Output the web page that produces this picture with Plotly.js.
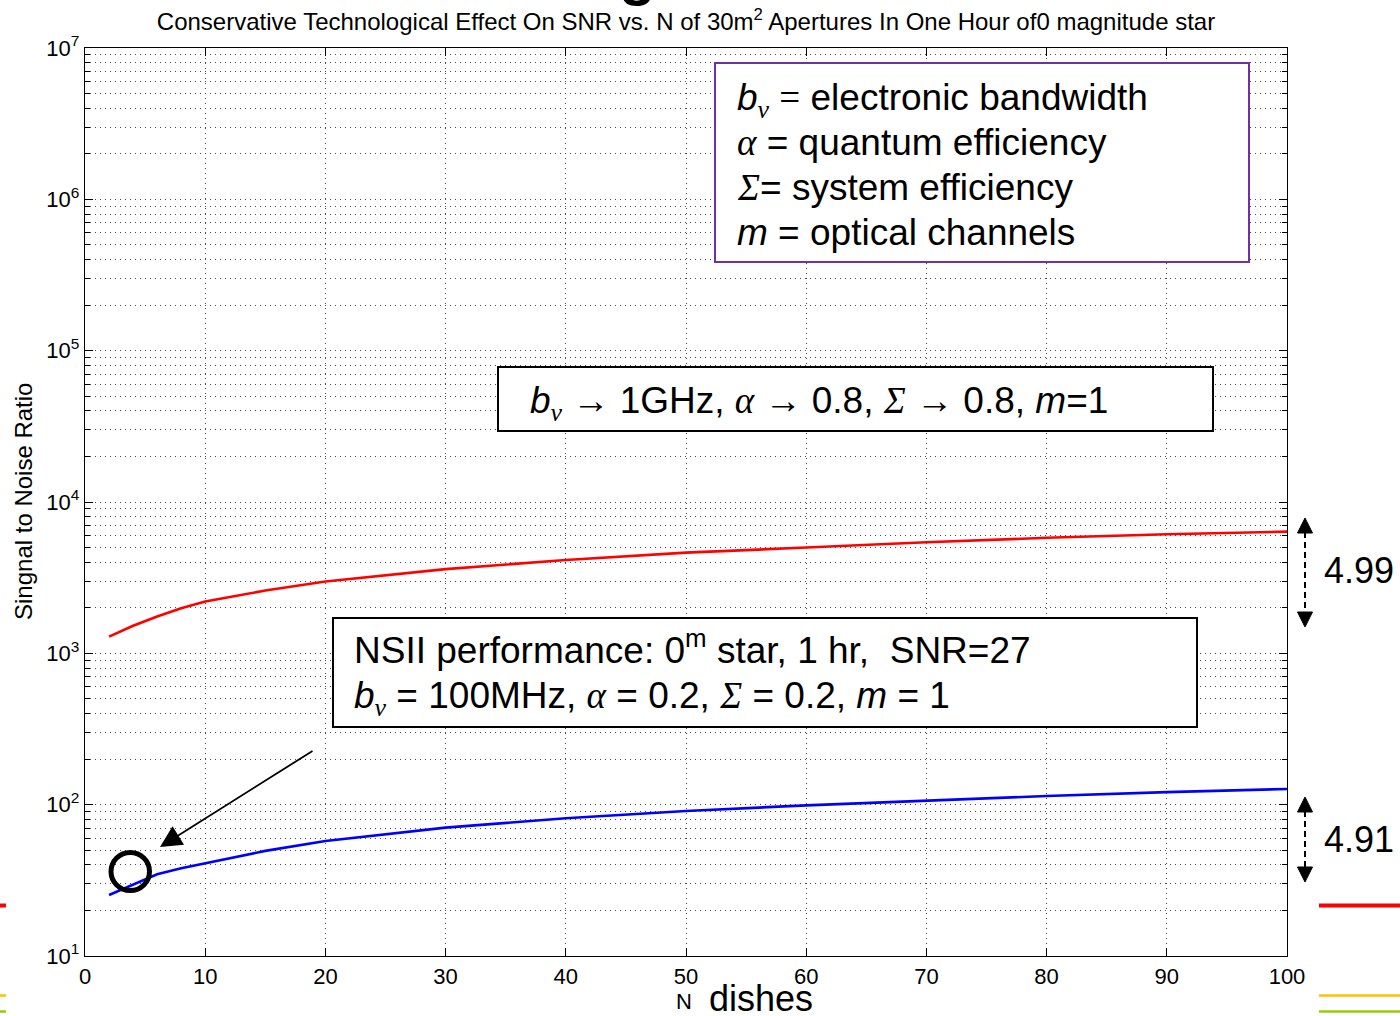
<!DOCTYPE html>
<html>
<head>
<meta charset="utf-8">
<script src="https://cdn.plot.ly/plotly-3.0.1.min.js"></script>
<style>html,body{margin:0;padding:0;background:#fff;}</style>
</head>
<body>
<div id="chart" style="width:1400px;height:1016px;"></div>
<script>
// Number of dishes (30 m^2 apertures)
const dishes = [2, 4, 6, 8, 10, 15, 20, 30, 40, 50, 60, 70, 80, 90, 100];
// SNR with improved technology: b_nu -> 1 GHz, alpha -> 0.8, Sigma -> 0.8, m = 1
const snrImproved = [1290, 1520, 1750, 1985, 2200, 2600, 2980, 3600, 4140, 4630, 5000, 5420, 5800, 6120, 6370];
// SNR with NSII performance: b_nu = 100 MHz, alpha = 0.2, Sigma = 0.2, m = 1
const snrNSII = [25.3, 29.5, 34.7, 38, 41, 49.5, 57.5, 70.5, 81.3, 90.8, 99, 106.5, 114, 121, 127];

const decadeVals = [1e1, 1e2, 1e3, 1e4, 1e5, 1e6, 1e7];
const decadeLabels = ['10<sup>1</sup>', '10<sup>2</sup>', '10<sup>3</sup>', '10<sup>4</sup>',
                      '10<sup>5</sup>', '10<sup>6</sup>', '10<sup>7</sup>'];
const xTickVals = [0, 10, 20, 30, 40, 50, 60, 70, 80, 90, 100];

const ratioImproved = '4.99';
const ratioNSII = '4.91';

// minor log gridlines (2..9 within each decade)
const minorVals = [];
for (let k = 1; k < 7; k++) for (let d = 2; d <= 9; d++) minorVals.push(d * Math.pow(10, k));

// plot frame in page pixels, used to place the overlay drawings
const L = 85, R = 1287, T = 48, B = 956;
const fx = p => (p - L) / (R - L);
const fy = p => (B - p) / (B - T);

const FONT = 'Liberation Sans, Arial, sans-serif';
const serif = s => `<span style="font-family:'Liberation Serif'">${s}</span>`;
const bnu = `<i>b</i><sub>${serif('<i>ν</i>')}</sub>`;
const alpha = serif('<i>α</i>');
const sigma = serif('<i>Σ</i>');
const arrowR = serif('→');

const gridDash = '1px,4px';
const gridColor = '#4a4a4a';

const traces = [
  {x: dishes, y: snrImproved, type: 'scatter', mode: 'lines',
   line: {color: '#ff0000', width: 2.6}, hoverinfo: 'skip'},
  {x: dishes, y: snrNSII, type: 'scatter', mode: 'lines',
   line: {color: '#0000ff', width: 2.6}, hoverinfo: 'skip'}
];

function rect(x0, y0, x1, y1, color, w) {
  return {type: 'rect', xref: 'paper', yref: 'paper', x0: fx(x0), x1: fx(x1), y0: fy(y1), y1: fy(y0),
          line: {color: color, width: w}, fillcolor: '#ffffff', layer: 'above'};
}
function hline(x0, x1, y, color, w) {
  return {type: 'line', xref: 'paper', yref: 'paper', x0: fx(x0), x1: fx(x1), y0: fy(y), y1: fy(y),
          line: {color: color, width: w}, layer: 'above'};
}
function vdash(x, y0, y1) {
  return {type: 'line', xref: 'paper', yref: 'paper', x0: fx(x), x1: fx(x), y0: fy(y0), y1: fy(y1),
          line: {color: '#000', width: 2, dash: '6px,4px'}, layer: 'above'};
}
function tri(xc, tipY, baseY, half) {
  const p = `M${fx(xc)},${fy(tipY)} L${fx(xc - half)},${fy(baseY)} L${fx(xc + half)},${fy(baseY)} Z`;
  return {type: 'path', xref: 'paper', yref: 'paper', path: p,
          line: {color: '#000', width: 1}, fillcolor: '#000', layer: 'above'};
}

const shapes = [
  rect(715, 63, 1249, 262, '#7030a0', 2),
  rect(498, 367, 1213, 431, '#000', 2),
  rect(333, 618, 1197, 727, '#000', 2),
  {type: 'circle', xref: 'paper', yref: 'paper', x0: fx(111), x1: fx(149.5), y0: fy(890.5), y1: fy(852.5),
   line: {color: '#000', width: 5}, layer: 'above'},
  vdash(1305, 532, 613), tri(1305, 518, 533, 7.5), tri(1305, 627, 612, 7.5),
  vdash(1305, 811, 867), tri(1305, 797, 812, 7.5), tri(1305, 882, 867, 7.5),
  hline(1319, 1400, 905.5, '#ff0000', 4),
  hline(0, 6, 905.5, '#ff0000', 4),
  hline(1319, 1400, 995.5, '#ffc000', 2.5),
  hline(0, 6, 995.5, '#ffc000', 2.5),
  hline(1319, 1400, 1011.5, '#99cc00', 2.5),
  hline(0, 6, 1011.5, '#99cc00', 2.5)
];

const boxFont = {family: FONT, size: 37, color: '#000'};
function note(text, x, y, opts) {
  return Object.assign({text: text, xref: 'paper', yref: 'paper', x: fx(x), y: fy(y),
    xanchor: 'left', yanchor: 'middle', align: 'left', showarrow: false, font: boxFont}, opts || {});
}

const annotations = [
  // legend of symbols
  note(`${bnu} ${serif('=')} electronic bandwidth`, 735, 100),
  note(`${alpha} = quantum efficiency`, 735, 142),
  note(`${sigma}= system efficiency`, 735, 187),
  note(`<i>m</i> = optical channels`, 735, 232),
  // improved technology parameters
  note(`${bnu} ${arrowR} 1GHz, ${alpha} ${arrowR} 0.8, ${sigma} ${arrowR} 0.8, <i>m</i>=1`, 528, 403),
  // NSII parameters
  note(`NSII performance: 0<sup>m</sup> star, 1 hr,  SNR=27`, 352, 647),
  note(`${bnu} = 100MHz, ${alpha} = 0.2, ${sigma} = 0.2, <i>m</i> = 1`, 352, 698),
  // gain factors
  note(ratioImproved, 1322, 570, {font: {family: FONT, size: 36, color: '#000'}}),
  note(ratioNSII, 1322, 839, {font: {family: FONT, size: 36, color: '#000'}}),
  // axis titles
  note('N', 684, 1001, {xanchor: 'center', font: {family: FONT, size: 22, color: '#000'}}),
  note('dishes', 707, 998, {font: {family: FONT, size: 36, color: '#000'}}),
  note('Singnal to Noise Ratio', 23, 502, {xanchor: 'center', textangle: -90,
       font: {family: FONT, size: 24, color: '#000'}}),
  // slide heading letter peeking in at the top edge
  note('<b>g</b>', 637, 9, {xanchor: 'center', yanchor: 'bottom',
       font: {family: FONT, size: 60, color: '#000'}}),
  // pointer to the NSII operating point
  {text: '', xref: 'paper', yref: 'paper', x: fx(160), y: fy(847), ax: 154, ay: -97,
   showarrow: true, arrowhead: 2, arrowsize: 2.4, arrowwidth: 1.8, arrowcolor: '#000', standoff: 0}
];

const layout = {
  width: 1400, height: 1016,
  margin: {l: L, r: 1400 - R, t: T, b: 1016 - B},
  paper_bgcolor: '#fff', plot_bgcolor: '#fff',
  showlegend: false,
  font: {family: FONT, color: '#000'},
  title: {
    text: 'Conservative Technological Effect On SNR vs. N of 30m<sup>2</sup> Apertures In One Hour of0 magnitude star',
    font: {family: FONT, size: 24, color: '#000'},
    xref: 'paper', x: 0.5, xanchor: 'center',
    yref: 'container', y: 1 - 22 / 1016, yanchor: 'middle'
  },
  xaxis: {
    range: [0, 100], tickmode: 'array', tickvals: xTickVals,
    ticks: 'inside', ticklen: 8, tickwidth: 1, tickcolor: '#000',
    showline: true, linecolor: '#000', linewidth: 1.2, mirror: 'ticks',
    showgrid: true, gridcolor: gridColor, griddash: gridDash, gridwidth: 1,
    zeroline: false, tickfont: {family: FONT, size: 22, color: '#000'}
  },
  yaxis: {
    type: 'log', range: [1, 7], tickmode: 'array', tickvals: decadeVals, ticktext: decadeLabels,
    ticks: 'inside', ticklen: 8, tickwidth: 1, tickcolor: '#000',
    showline: true, linecolor: '#000', linewidth: 1.2, mirror: 'ticks',
    showgrid: true, gridcolor: gridColor, griddash: gridDash, gridwidth: 1,
    zeroline: false, tickfont: {family: FONT, size: 22, color: '#000'},
    minor: {tickmode: 'array', tickvals: minorVals, ticks: 'inside', ticklen: 5, tickcolor: '#000',
            showgrid: true, gridcolor: gridColor, griddash: gridDash, gridwidth: 1}
  },
  shapes: shapes,
  annotations: annotations
};

Plotly.newPlot('chart', traces, layout, {displayModeBar: false, staticPlot: true});
</script>
</body>
</html>
